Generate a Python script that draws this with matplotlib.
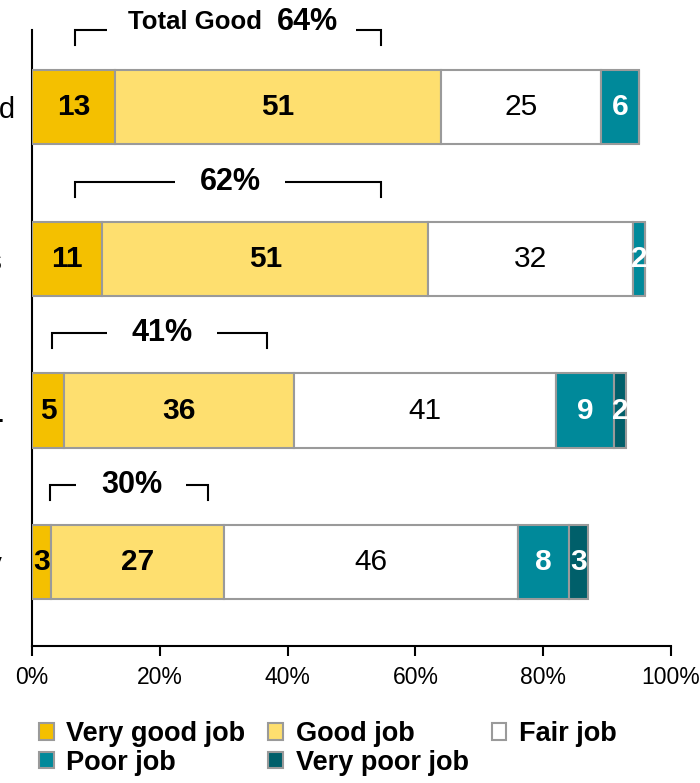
import numpy as np
import matplotlib.pyplot as plt
from matplotlib.patches import Patch
from matplotlib.transforms import ScaledTranslation

plt.rcParams['font.family'] = ['Liberation Sans', 'DejaVu Sans']

# survey rows (labels run off the left edge of the figure)
categories = ["Overall standard", "Local services", "Council etc.", "National policy"]
ratings = ["Very good job", "Good job", "Fair job", "Poor job", "Very poor job"]
very_good = [13, 11, 5, 3]
good = [51, 51, 36, 27]
fair = [25, 32, 41, 46]
poor = [6, 2, 9, 8]
very_poor = [0, 0, 2, 3]

colors = ["#F4C000", "#FEDF6F", "#FFFFFF", "#00899A", "#005F6A"]
text_colors = ["black", "black", "black", "white", "white"]
text_weights = ["bold", "bold", "normal", "bold", "bold"]

# bracket extents over the "good" part of each bar, in axis percent
bracket_left = [6.7, 6.7, 3.1, 2.8]
bracket_right = [54.6, 54.6, 36.8, 27.5]

series = [very_good, good, fair, poor, very_poor]
y = np.arange(len(categories))

fig = plt.figure(figsize=(7, 7.83), dpi=100)
ax = fig.add_axes([0.0457, 0.1756, 0.9129, 0.7861])

bar_h = 0.49
left = np.zeros(len(categories))
for vals, col, tc, tw, name in zip(series, colors, text_colors, text_weights, ratings):
    vals = np.array(vals, dtype=float)
    ax.barh(y, vals, left=left, height=bar_h, color=col, edgecolor="#9a9a9a",
            linewidth=1.5, zorder=3, label=name)
    for yi, v, l in zip(y, vals, left):
        if v > 0:
            ax.text(l + v / 2, yi, f"{v:g}", ha="center", va="center",
                    fontsize=21.5, color=tc, fontweight=tw, zorder=4)
    left += vals

ax.set_xlim(0, 100)
ax.set_ylim(3.55, -0.51)
ax.set_yticks(y)
ax.set_yticklabels(categories, fontsize=21)
ax.tick_params(axis="y", length=0, pad=12)
# the lower labels sit a bit further left than the first one
for i, lab in enumerate(ax.get_yticklabels()):
    if i > 0:
        shift = -10 if i == 2 else -13
        lab.set_transform(lab.get_transform() +
                          ScaledTranslation(shift / 100, 0, fig.dpi_scale_trans))
ax.set_xticks(np.arange(0, 101, 20))
ax.set_xticklabels([f"{t}%" for t in range(0, 101, 20)], fontsize=16.5)
ax.tick_params(axis="x", length=7, width=1.5, pad=8)
for s in ["top", "right"]:
    ax.spines[s].set_visible(False)
for s in ["left", "bottom"]:
    ax.spines[s].set_linewidth(1.5)


def gap_label(x, yy, s, size, ha, pad=0.9):
    # white box hides the bracket line behind the label, text drawn on top
    ax.text(x, yy, s, ha=ha, va="center", fontsize=size, fontweight="bold",
            color="white", zorder=2, clip_on=False,
            bbox=dict(boxstyle=f"square,pad={pad}", fc="white", ec="none"))
    ax.text(x, yy, s, ha=ha, va="center", fontsize=size, fontweight="bold",
            color="black", zorder=2.5, clip_on=False)


# "total good" brackets above each bar
total_good = [a + b for a, b in zip(very_good, good)]
for yi, tg, bl, br in zip(y, total_good, bracket_left, bracket_right):
    ly = yi - bar_h / 2 - 0.265
    ax.plot([bl, bl, br, br], [ly + 0.1, ly, ly, ly + 0.1], color="black",
            lw=1.5, clip_on=False, zorder=1, solid_joinstyle="miter")
    mid = (bl + br) / 2
    if yi == 0:
        gap_label(mid + 5.3, ly - 0.05, "Total Good", 18.5, "right", pad=0.8)
        gap_label(mid + 7.6, ly - 0.05, f"{tg}%", 22, "left", pad=0.6)
    else:
        gap_label(mid + 0.4, ly, f"{tg}%", 22, "center", pad=0.8)

# legend filled row by row: reorder for matplotlib's column-wise layout
order = [0, 3, 1, 4, 2]
handles = [Patch(facecolor=colors[i], edgecolor="#9a9a9a", linewidth=1.5) for i in order]
fig.legend(handles, [ratings[i] for i in order], loc="upper left",
           bbox_to_anchor=(0.056, 0.079), ncol=3, frameon=False,
           prop={"weight": "bold", "size": 19.5},
           handlelength=0.55, handleheight=0.55, handletextpad=0.45,
           columnspacing=0.85, labelspacing=0.1, borderpad=0, borderaxespad=0)

fig.savefig("out.png", dpi=100)
